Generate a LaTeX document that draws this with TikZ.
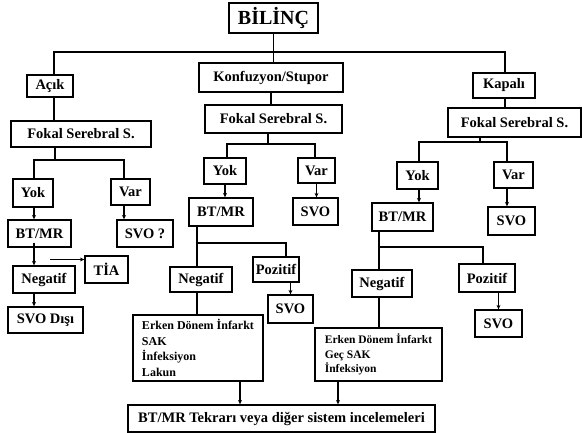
\documentclass[tikz,border=0pt]{standalone}
\usepackage{fontspec}
\setmainfont{Liberation Serif}
\usetikzlibrary{arrows.meta}
\begin{document}
\begin{tikzpicture}[x=1pt,y=-1pt,
  box/.style={draw, line width=1.3pt, inner sep=0pt, font=\bfseries\fontsize{14.5}{16}\selectfont},
  bx/.style 2 args={minimum width=#1pt, minimum height=#2pt},
  lst/.style={box, align=left, font=\bfseries\fontsize{12}{15.5}\selectfont},
  ln/.style={line width=1.2pt},
  ar/.style={line width=1.2pt, -{Stealth[length=4.5pt,width=4pt]}}]
\useasboundingbox (0,0) rectangle (582,433);
% nodes
\node[box, bx={89}{30}, font=\bfseries\fontsize{20}{22}\selectfont] (bilinc) at (273.5,18) {BİLİNÇ};
\node[box, bx={46}{22}] (acik) at (50,86) {Açık};
\node[box, bx={144}{29}] (konf) at (271,77.5) {Konfuzyon/Stupor};
\node[box, bx={62}{25}] (kapali) at (504,85.5) {Kapalı};
\node[box, bx={140}{26}] (fok1) at (81,134) {Fokal Serebral S.};
\node[box, bx={137}{28}] (fok2) at (273.5,119) {Fokal Serebral S.};
\node[box, bx={133}{29}] (fok3) at (514.5,122.5) {Fokal Serebral S.};
% left column
\node[box, bx={40}{28}] (yok1) at (33,193) {Yok};
\node[box, bx={39}{26}] (var1) at (130.5,192) {Var};
\node[box, bx={63}{27}] (bt1) at (39.5,233.5) {BT/MR};
\node[box, bx={56}{27}] (svoq) at (145,233.5) {SVO ?};
\node[box, bx={62}{27}] (neg1) at (44,279.5) {Negatif};
\node[box, bx={43}{27}] (tia) at (106.5,269.5) {TİA};
\node[box, bx={75}{26}] (svod) at (45.5,320) {SVO Dışı};
% middle column
\node[box, bx={42}{26}] (yok2) at (225,171) {Yok};
\node[box, bx={37}{25}] (var2) at (316.5,170.5) {Var};
\node[box, bx={64}{28}] (bt2) at (221,212) {BT/MR};
\node[box, bx={45}{27}] (svo2) at (315.5,211.5) {SVO};
\node[box, bx={62}{25}] (neg2) at (201,279.5) {Negatif};
\node[box, bx={46}{25}] (poz2) at (276,269.5) {Pozitif};
\node[box, bx={45}{28}] (svo2b) at (290.5,309) {SVO};
\node[lst, bx={130}{66}] (box1) at (198,348)
  {Erken Dönem İnfarkt\\SAK\\İnfeksiyon\\Lakun};
% right column
\node[box, bx={41}{27}] (yok3) at (417.5,175.5) {Yok};
\node[box, bx={39}{26}] (var3) at (513.5,175) {Var};
\node[box, bx={61}{28}] (bt3) at (402.5,217) {BT/MR};
\node[box, bx={47}{28}] (svo3) at (511.5,221) {SVO};
\node[box, bx={60}{27}] (neg3) at (382,283.5) {Negatif};
\node[box, bx={56}{28}] (poz3) at (487,278) {Pozitif};
\node[box, bx={47}{27}] (svo3b) at (498.5,323.5) {SVO};
\node[lst, bx={127}{53}, font=\bfseries\fontsize{11.5}{14.5}\selectfont] (box2) at (378.5,354.5)
  {Erken Dönem İnfarkt\\Geç SAK\\İnfeksiyon};
% bottom
\node[box, bx={307}{27}] (bottom) at (281.5,418.5) {BT/MR Tekrarı veya diğer sistem incelemeleri};
% top connectors
\coordinate (ax) at (54,52);
\coordinate (kx) at (505,52);
\draw[ln] (bilinc.south) -- (bilinc.south |- konf.north);
\draw[ln] (ax |- acik.north) -- (ax) -- (kx) -- (kx |- kapali.north);
\draw[ln] (ax |- acik.south) -- (ax |- fok1.north);
\draw[ln] (kx |- kapali.south) -- (kx |- fok3.north);
\draw[ln] (konf.south) -- (konf.south |- fok2.north);
% left branch
\coordinate (l1) at (55,160);
\coordinate (l1a) at (34,160);
\coordinate (l1b) at (124,160);
\draw[ln] (l1 |- fok1.south) -- (l1);
\draw[ln] (l1a |- yok1.north) -- (l1a) -- (l1b) -- (l1b |- var1.north);
\draw[ar] (l1a |- yok1.south) -- (l1a |- bt1.north);
\draw[ar] (l1b |- var1.south) -- (l1b |- svoq.north);
\draw[ar] ([yshift=5pt]l1a |- bt1.south) -- (l1a |- neg1.north);
\coordinate (tiaS) at (50,259.5);
\draw[ar] (tiaS) -- (tiaS -| tia.west);
\draw[ar] (l1a |- neg1.south) -- (l1a |- svod.north);
% middle branch
\coordinate (m1) at (268,144);
\coordinate (m1a) at (227,144);
\coordinate (m1b) at (315,144);
\draw[ln] (m1 |- fok2.south) -- (m1);
\draw[ln] (m1a |- yok2.north) -- (m1a) -- (m1b) -- (m1b |- var2.north);
\draw[ar] (yok2.south) -- (yok2.south |- bt2.north);
\draw[ar] (var2.south) -- (var2.south |- svo2.north);
\coordinate (m2) at (197,243);
\coordinate (m2b) at (286,243);
\draw[ln] (m2 |- bt2.south) -- (m2) -- (m2b) -- (m2b |- poz2.north);
\draw[ln] (m2) -- (m2 |- neg2.north);
\draw[ar] (svo2b.north |- poz2.south) -- (svo2b.north);
\draw[ln] (m2 |- neg2.south) -- (m2 |- box1.north);
\draw[ar] ([xshift=42pt]box1.south) -- ([xshift=42pt]box1.south |- bottom.north);
% right branch
\coordinate (r1) at (480,142);
\coordinate (r1a) at (419,142);
\coordinate (r1b) at (507,142);
\draw[ln] (r1 |- fok3.south) -- (r1);
\draw[ln] (r1a |- yok3.north) -- (r1a) -- (r1b) -- (r1b |- var3.north);
\draw[ar] (r1a |- yok3.south) -- (r1a |- bt3.north);
\draw[ar] (r1b |- var3.south) -- (r1b |- svo3.north);
\coordinate (r2) at (379,247);
\coordinate (r2b) at (483,247);
\draw[ln] (r2 |- bt3.south) -- (r2) -- (r2b) -- (r2b |- poz3.north);
\draw[ln] (r2) -- (r2 |- neg3.north);
\draw[ar] (svo3b.north |- poz3.south) -- (svo3b.north);
\draw[ln] (r2 |- neg3.south) -- (r2 |- box2.north);
\draw[ar] ([xshift=-40.5pt]box2.south) -- ([xshift=-40.5pt]box2.south |- bottom.north);
\end{tikzpicture}
\end{document}
